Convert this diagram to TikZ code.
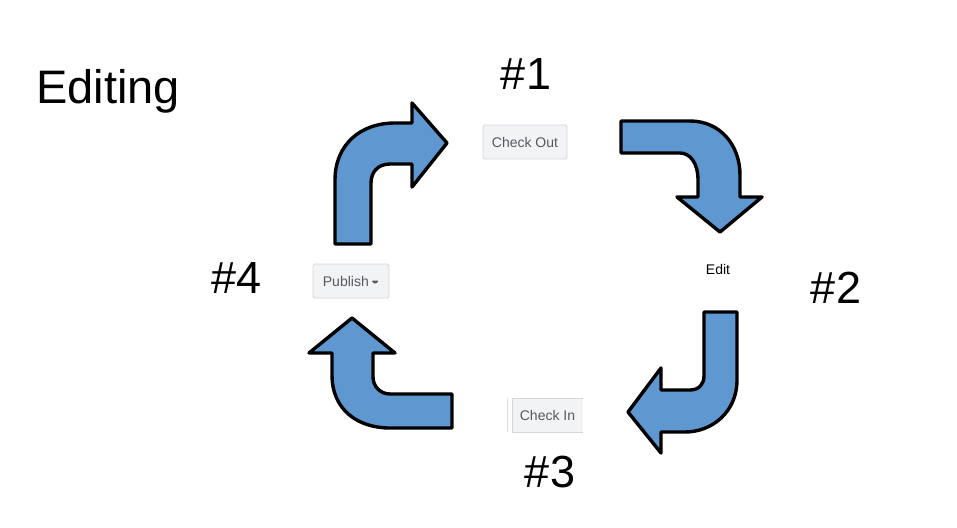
\documentclass[tikz,border=0pt]{standalone}
\usepackage{fontspec}
\setmainfont{Liberation Sans}
\begin{document}
\begin{tikzpicture}[x=1pt,y=-1pt,
  bigarrow/.style={draw=black,line width=3.4pt,fill=arrowblue,line join=round},
  numlabel/.style={anchor=base,inner sep=0pt,font=\fontsize{45}{50}\selectfont},
  btn/.style={draw=btnborder,fill=btnfill,rounded corners=1.5pt,line width=0.8pt,
    text=btntext,font=\fontsize{14}{16}\selectfont,inner sep=0pt,minimum height=34pt}]
\definecolor{arrowblue}{HTML}{5F98D1}
\definecolor{btnfill}{HTML}{F2F3F5}
\definecolor{btnborder}{HTML}{D4D6D9}
\definecolor{btntext}{HTML}{555A60}
\useasboundingbox[fill=white] (0,0) rectangle (957,527);

% title
\node[anchor=base west,inner sep=0pt,font=\fontsize{47}{52}\selectfont] (title) at (36,103) {Editing};

% step labels
\node[numlabel] (n1) at (526,89) {\#1};
\node[numlabel] (n2) at (836,303) {\#2};
\node[numlabel] (n3) at (550,487) {\#3};
\node[numlabel] (n4) at (237,293) {\#4};

% buttons
\node[btn,minimum width=84pt] (checkout) at (525,142) {Check Out};
\node[btn,minimum width=76pt] (publish) at (351,281) {Publish\,\raisebox{1.5pt}{\tikz[x=1pt,y=1pt]\fill[btntext] (0,0) -- (8,0) -- (4,-4) -- cycle;}};
\fill[btnfill] (512,398) rectangle (583,432);
\draw[btnborder,line width=0.8pt] (583,398) -- (512,398) -- (512,432) -- (583,432);
\draw[btnborder!80,line width=0.8pt] (507,398) -- (507,432);
\node[text=btntext,font=\fontsize{14}{16}\selectfont,inner sep=0pt] (checkin) at (547.5,415) {Check In};
\node[anchor=base,inner sep=0pt,font=\fontsize{14}{16}\selectfont] (edit) at (718,274) {Edit};

% arrow 1 (up then right)
\draw[bigarrow] (335,244) -- (335,180) .. controls (335,145) and (360,123) .. (395,123)
  -- (412,123) -- (412,103) -- (447,143) -- (412,187) -- (412,164) -- (390,164)
  .. controls (378,164) and (371,172) .. (371,183) -- (371,244) -- cycle;

% arrow 2 (right then down)
\draw[bigarrow] (621,121) -- (690,121) .. controls (720,121) and (740,145) .. (740,175)
  -- (740,197) -- (762,197) -- (720,232) -- (677,197) -- (698,197) -- (698,180)
  .. controls (698,163) and (690,153) .. (680,153) -- (621,153) -- cycle;

% arrow 3 (down then left)
\draw[bigarrow] (704,312) -- (737,312) -- (737,380) .. controls (737,412) and (712,432) .. (685,432)
  -- (661,432) -- (661,453) -- (628,412) -- (661,368) -- (661,390) -- (690,390)
  .. controls (699,390) and (704,384) .. (704,376) -- cycle;

% arrow 4 (left then up)
\draw[bigarrow] (452,394) -- (390,394) .. controls (380,394) and (373,386) .. (373,377)
  -- (373,353) -- (395,353) -- (352,318) -- (309,353) -- (332,353) -- (332,375)
  .. controls (332,410) and (358,428) .. (390,428) -- (452,428) -- cycle;
\end{tikzpicture}
\end{document}
